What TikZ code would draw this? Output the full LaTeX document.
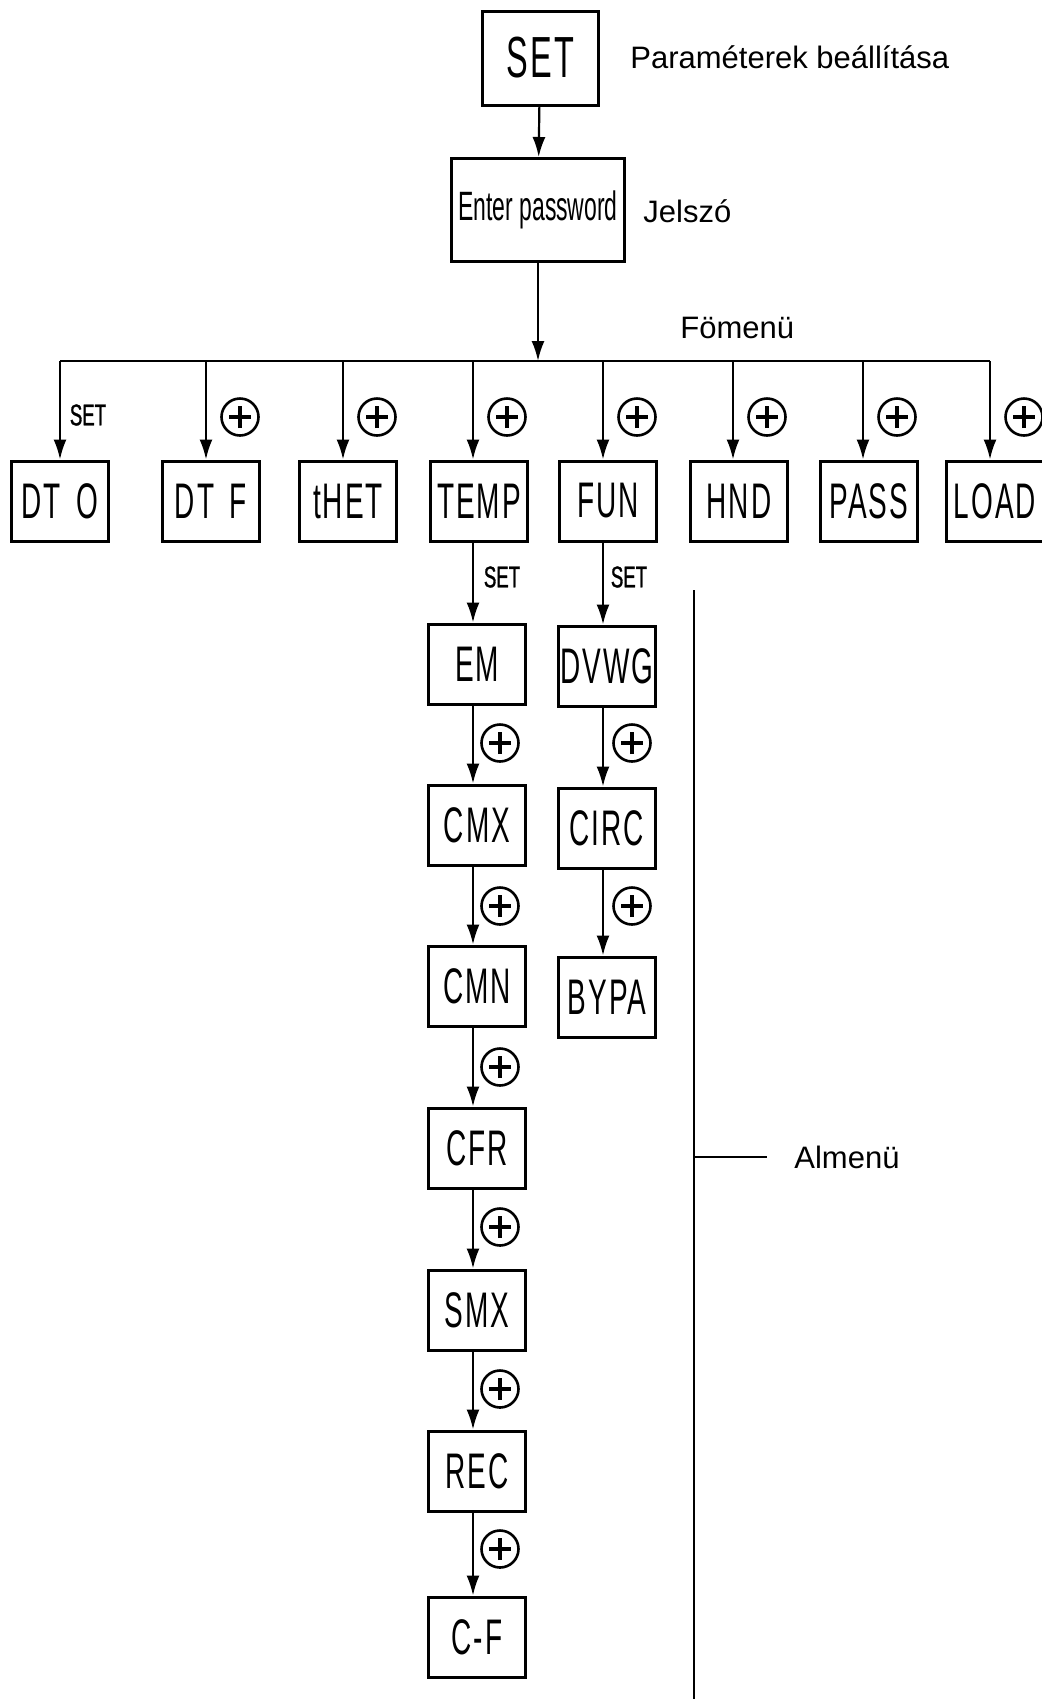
\documentclass[tikz,border=0pt]{standalone}
\usepackage{fontspec}
\setmainfont{Liberation Sans}
\newfontfamily\boxfont[FakeStretch=0.56, LetterSpace=4]{Liberation Sans}
\newfontfamily\pwfont[FakeStretch=0.56]{Liberation Sans}
\newfontfamily\keyfont[FakeStretch=0.62, FakeBold=1]{Liberation Sans}
\usetikzlibrary{arrows.meta}

\tikzset{
  menubox/.style={draw, line width=1.5pt, minimum width=48.5pt, minimum height=40pt,
    inner sep=0pt, font=\boxfont\fontsize{25}{28}\selectfont},
  arr/.style={-{Latex[length=10pt,width=6.5pt]}, line width=1.1pt},
  keyset/.style={font=\keyfont\fontsize{15}{17}\selectfont, inner sep=0pt},
  plus/.style={circle, draw, line width=1.3pt, minimum size=18.5pt, inner sep=0pt,
    path picture={
      \draw[line width=1.7pt]
        ([xshift=-5.5pt]path picture bounding box.center) -- ([xshift=5.5pt]path picture bounding box.center)
        ([yshift=-5.5pt]path picture bounding box.center) -- ([yshift=5.5pt]path picture bounding box.center);}},
  note/.style={anchor=west, inner sep=0pt, font=\fontsize{15.5}{18}\selectfont}
}

\begin{document}
\begin{tikzpicture}[x=0.5pt, y=-0.5pt]
% page = 1041 x 1699 px, 1 px = 0.5pt, y runs downwards
\useasboundingbox (0,0) rectangle (1041,1699);

% top: SET -> password -> main menu bus
\node[menubox, minimum width=58pt, minimum height=47pt,
  font=\boxfont\fontsize{29}{32}\selectfont] (set) at (540,58) {SET};
\node[note] (setnote) at (630,57) {Paraméterek beállítása};
\node[menubox, minimum width=86.5pt, minimum height=51.5pt,
  font=\pwfont\fontsize{20.5}{24}\selectfont] (pw) at (538,210) {Enter password};
\node[note] (pwnote) at (643,211) {Jelszó};
\draw[arr] (set) -- (pw);

\coordinate (busL) at (60,361);
\coordinate (busR) at (990,361);
\coordinate (busC) at (538,361);
\draw[line width=1.1pt] (busL) -- (busR);
\draw[arr] (pw) -- (busC);
\node[note] (mainnote) at (680,328) {Fömenü};

% main menu row: tap x / box centre x / text
\foreach \n/\tx/\bx/\txt in {1/60/60/DT\hspace{3pt} O, 2/206/211/DT\hspace{3pt} F, 3/343/348/tHET, 4/473/479/TEMP,
                             5/603/608/FUN, 6/733/739/HND, 7/863/869/PASS, 8/990/995/LOAD} {
  \coordinate (t\n) at (\tx,361);
  \node[menubox] (m\n) at (\bx,501) {\txt};
  \draw[arr] (t\n) -- (t\n |- m\n.north);
}
\node[keyset] (k1) at (88,415) {SET};
\foreach \n/\tx in {2/206, 3/343, 4/473, 5/603, 6/733, 7/863, 8/990}
  \node[plus] (p\n) at (\tx+34,417) {};

% TEMP submenu
\node[keyset] (kt) at (502,577) {SET};
\foreach \n/\y/\txt in {1/664/EM, 2/825/CMX, 3/986/CMN, 4/1148/CFR, 5/1310/SMX, 6/1471/REC, 7/1637/C-F}
  \node[menubox] (a\n) at (477,\y) {\txt};
\draw[arr] (t4 |- m4.south) -- (t4 |- a1.north);
\foreach \i/\j/\y in {1/2/743, 2/3/906, 3/4/1067, 4/5/1227, 5/6/1389, 6/7/1549} {
  \draw[arr] (t4 |- a\i.south) -- (t4 |- a\j.north);
  \node[plus] (ap\i) at (500,\y) {};
}

% FUN submenu
\node[keyset] (kf) at (629,577) {SET};
\foreach \n/\y/\txt in {1/666/DVWG, 2/828/CIRC, 3/997/BYPA}
  \node[menubox] (f\n) at (607,\y) {\txt};
\draw[arr] (t5 |- m5.south) -- (t5 |- f1.north);
\foreach \i/\j/\y in {1/2/743, 2/3/906} {
  \draw[arr] (t5 |- f\i.south) -- (t5 |- f\j.north);
  \node[plus] (fp\i) at (632,\y) {};
}

% submenu bracket
\coordinate (subT) at (694,590);
\coordinate (subB) at (694,1699);
\coordinate (subM) at (694,1157);
\coordinate (subE) at (767,1157);
\draw[line width=1.1pt] (subT) -- (subB);
\draw[line width=1.1pt] (subM) -- (subE);
\node[note] (subnote) at (794,1157) {Almenü};
\end{tikzpicture}
\end{document}
